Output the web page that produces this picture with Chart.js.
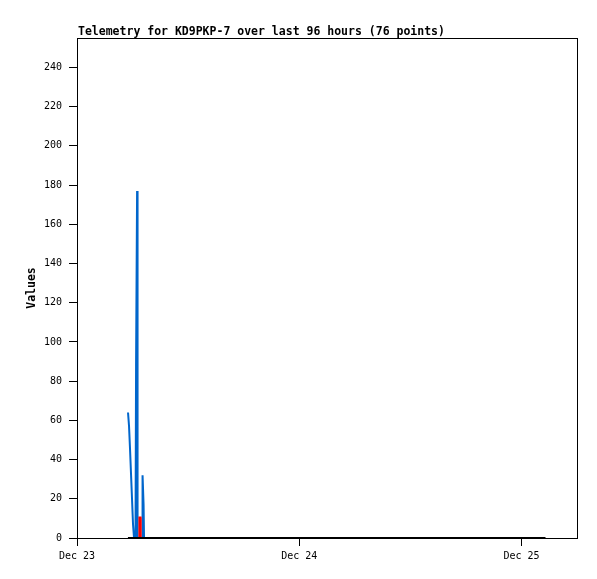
<!DOCTYPE html>
<html>
<head>
<meta charset="utf-8">
<script src="https://cdn.jsdelivr.net/npm/chart.js@4.4.0/dist/chart.umd.min.js"></script>
<style>
html, body { margin: 0; padding: 0; background: #fff; }
</style>
</head>
<body>
<canvas id="telemetry" width="597" height="579"></canvas>
<script>
var chartTitle = 'Telemetry for KD9PKP-7 over last 96 hours (76 points)';

// x values are hours after Dec 23 00:00
var dayLabels = ['Dec 23', 'Dec 24', 'Dec 25'];

var blueHours  = [5.51, 5.62, 5.73, 5.84, 5.95, 6.05, 6.16, 6.32, 6.38, 6.49, 6.54, 7.03, 7.08, 7.19, 7.24];
var blueValues = [64, 57, 45, 32, 19, 7, 0, 0, 88, 177, 0, 0, 32, 17, 0];

var redHours  = [6.72, 6.74, 6.86, 6.88];
var redValues = [0, 10.5, 10.5, 0];

var blackHours  = [5.5, 50.6];
var blackValues = [0, 0];

function pts(xs, ys) {
    return xs.map(function (x, i) { return { x: x, y: ys[i] }; });
}

var tickFont = { family: '"DejaVu Sans Mono", monospace', size: 10 };

// box round the plot + the title in the corner
var frame = {
    id: 'frame',
    afterDraw: function (c) {
        var a = c.chartArea, ctx = c.ctx;
        ctx.save();
        ctx.strokeStyle = '#000';
        ctx.lineWidth = 1;
        ctx.strokeRect(Math.round(a.left) + 0.5, Math.round(a.top) + 0.5,
            Math.round(a.right - a.left), Math.round(a.bottom - a.top));
        ctx.fillStyle = '#000';
        ctx.font = 'bold 11.5px "DejaVu Sans Mono", monospace';
        ctx.textBaseline = 'alphabetic';
        ctx.fillText(chartTitle, 78, 35);
        ctx.restore();
    }
};

var ctx = document.getElementById('telemetry').getContext('2d');
var chart = new Chart(ctx, {
    type: 'line',
    data: {
        datasets: [{
            label: 'zero',
            data: pts(blackHours, blackValues),
            borderColor: '#000000',
            order: 0
        }, {
            label: 'red',
            data: pts(redHours, redValues),
            borderColor: '#ff0000',
            order: 1
        }, {
            label: 'blue',
            data: pts(blueHours, blueValues),
            borderColor: '#0066cc',
            order: 2
        }]
    },
    plugins: [frame],
    options: {
        responsive: false,
        animation: false,
        devicePixelRatio: 1,
        layout: { padding: { top: 38, right: 20, left: 0, bottom: 0 } },
        elements: {
            line: { borderWidth: 2, tension: 0, fill: false },
            point: { radius: 0, hoverRadius: 0 }
        },
        plugins: { legend: { display: false }, tooltip: { enabled: false } },
        scales: {
            x: {
                type: 'linear',
                min: 0,
                max: 54,
                afterFit: function (s) { s.height = 41; },
                border: { display: false },
                grid: { drawOnChartArea: false, tickLength: 8, color: '#000' },
                ticks: {
                    stepSize: 24,
                    includeBounds: false,
                    autoSkip: false,
                    maxRotation: 0,
                    padding: 4,
                    color: '#000',
                    font: tickFont,
                    callback: function (v) { return dayLabels[v / 24]; }
                }
            },
            y: {
                min: 0,
                max: 255,
                afterFit: function (s) { s.width = 77; },
                border: { display: false },
                grid: { drawOnChartArea: false, tickLength: 8, color: '#000' },
                ticks: {
                    stepSize: 20,
                    includeBounds: false,
                    padding: 7,
                    color: '#000',
                    font: tickFont
                },
                title: {
                    display: true,
                    text: 'Values',
                    color: '#000',
                    font: { family: '"DejaVu Sans Mono", monospace', size: 11.5, weight: 'bold' },
                    padding: { top: 25, bottom: 0 }
                }
            }
        }
    }
});
</script>
</body>
</html>
